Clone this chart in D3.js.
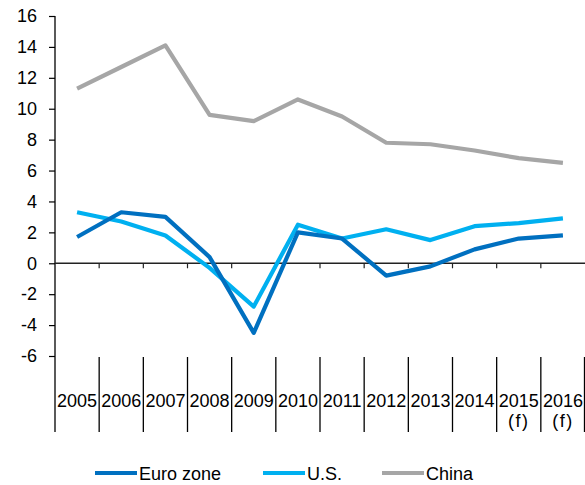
<!DOCTYPE html>
<html>
<head>
<meta charset="utf-8">
<script src="https://cdn.jsdelivr.net/npm/d3@7"></script>
<style>
  html, body { margin: 0; padding: 0; background: #fff; }
  svg { display: block; }
  text { font-family: "Liberation Sans", Arial, sans-serif; fill: #000; }
</style>
</head>
<body>
<svg id="chart" width="585" height="485"></svg>
<script>
// GDP growth, % y/y
const years = ["2005","2006","2007","2008","2009","2010","2011","2012","2013","2014","2015","2016"];
const yearNotes = ["","","","","","","","","","","(f)","(f)"];
const euroZone = [1.7, 3.3, 3.0, 0.4, -4.5, 2.0, 1.6, -0.8, -0.2, 0.9, 1.6, 1.8];
const us = [3.3, 2.7, 1.8, -0.3, -2.8, 2.5, 1.6, 2.2, 1.5, 2.4, 2.6, 2.9];
const china = [11.3, 12.7, 14.1, 9.6, 9.2, 10.6, 9.5, 7.8, 7.7, 7.3, 6.8, 6.5];
const yTicks = [-6, -4, -2, 0, 2, 4, 6, 8, 10, 12, 14, 16];
const seriesNames = ["Euro zone", "U.S.", "China"];

const series = [
  { name: seriesNames[0], values: euroZone, color: "#0070C0" },
  { name: seriesNames[1], values: us, color: "#00B0F0" },
  { name: seriesNames[2], values: china, color: "#A6A6A6" }
];

const svg = d3.select("#chart");
const plotLeft = 55, plotRight = 585, plotTop = 16, plotBottom = 356, bandBottom = 432;

const x = d3.scaleBand().domain(years).range([plotLeft, plotRight]).padding(0);
const y = d3.scaleLinear().domain([-6, 16]).range([plotBottom, plotTop]);

// Y axis (plain hyphen for negatives)
const yAxis = d3.axisLeft(y).tickValues(yTicks).tickFormat(d => String(d))
  .tickSize(6).tickSizeOuter(0).tickPadding(12);
const gy = svg.append("g").attr("transform", `translate(${plotLeft},0)`).call(yAxis);
gy.select(".domain").remove();
gy.selectAll(".tick line").attr("stroke", "#000").attr("stroke-width", 1.2);
gy.selectAll(".tick text").style("font-size", "18px").attr("fill", "#000");

// Axis spine runs down through the category band
svg.append("line")
  .attr("x1", plotLeft).attr("x2", plotLeft)
  .attr("y1", plotTop).attr("y2", bandBottom)
  .attr("stroke", "#000").attr("stroke-width", 1.3);

// Zero line with small ticks at category boundaries
svg.append("line")
  .attr("x1", plotLeft).attr("x2", plotRight)
  .attr("y1", y(0)).attr("y2", y(0))
  .attr("stroke", "#222").attr("stroke-width", 1.3);
const boundaries = years.slice(1).map(d => x(d));
svg.append("g").selectAll("line").data(boundaries).join("line")
  .attr("x1", d => d).attr("x2", d => d)
  .attr("y1", y(0)).attr("y2", y(0) + 5)
  .attr("stroke", "#222").attr("stroke-width", 1.2);

// Category band separators
const bandEdges = years.slice(1).map(d => x(d)).concat([plotRight - 0.5]);
svg.append("g").selectAll("line").data(bandEdges).join("line")
  .attr("x1", d => d).attr("x2", d => d)
  .attr("y1", plotBottom + 1).attr("y2", bandBottom)
  .attr("stroke", "#000").attr("stroke-width", 1.3);

// Category labels
svg.append("g").selectAll("text").data(years).join("text")
  .attr("x", d => x(d) + x.bandwidth() / 2)
  .attr("y", 407)
  .attr("text-anchor", "middle")
  .style("font-size", "18px")
  .text(d => d);
svg.append("g").selectAll("text").data(years.filter((d, i) => yearNotes[i])).join("text")
  .attr("x", d => x(d) + x.bandwidth() / 2)
  .attr("y", 427)
  .attr("text-anchor", "middle")
  .style("font-size", "18px")
  .style("letter-spacing", "1.5px")
  .text(d => yearNotes[years.indexOf(d)]);

// Series lines
const line = d3.line()
  .x((d, i) => x(years[i]) + x.bandwidth() / 2)
  .y(d => y(d));

svg.append("g").selectAll("path").data(series.slice().reverse()).join("path")
  .attr("d", s => line(s.values))
  .attr("fill", "none")
  .attr("stroke", s => s.color)
  .attr("stroke-width", 4.2)
  .attr("stroke-linejoin", "round");

// Legend
const legendItems = [
  { s: series[0], x: 95 },
  { s: series[1], x: 263 },
  { s: series[2], x: 382 }
];
const lg = svg.append("g");
legendItems.forEach(item => {
  lg.append("line")
    .attr("x1", item.x).attr("x2", item.x + 42)
    .attr("y1", 473).attr("y2", 473)
    .attr("stroke", item.s.color).attr("stroke-width", 4);
  lg.append("text")
    .attr("x", item.x + 44).attr("y", 479.5)
    .style("font-size", "18px")
    .text(item.s.name);
});
</script>
</body>
</html>
